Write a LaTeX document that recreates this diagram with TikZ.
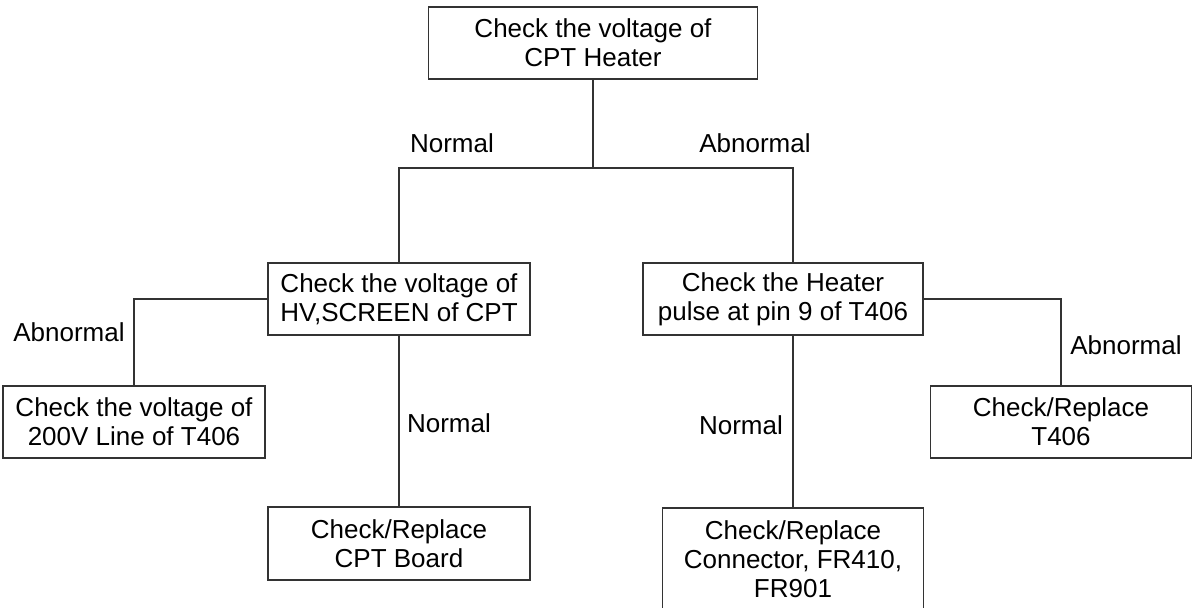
\documentclass[tikz,border=0pt]{standalone}
\usepackage{fontspec}
\setmainfont{Liberation Sans}

\begin{document}
\begin{tikzpicture}[
			x=1pt,
			y=-1pt,
			box/.style={
				draw=black!80,
				line width=1.5pt,
				align=center,
				inner sep=0pt,
				minimum height=72pt,
				font=\fontsize{26}{29}\selectfont
			},
			link/.style={
				draw=black!80,
				line width=1.5pt
			},
			tag/.style={
				inner sep=0pt,
				font=\fontsize{26}{29}\selectfont
			}
			]
			
			\useasboundingbox (0,0) rectangle (1192,608);
			
			% boxes
			\node[box,minimum width=329pt] (heater) at (593,43) {Check the voltage of\\CPT Heater};
			\node[box,minimum width=262pt] (screen) at (399,299) {Check the voltage of\\HV,SCREEN of CPT};
			\node[box,minimum width=280pt] (pulse) at (783,299) {Check the Heater\\pulse at pin 9 of T406};
			\node[box,minimum width=262pt] (line200) at (134,422) {Check the voltage of\\200V Line of T406};
			\node[box,minimum width=261pt] (trans) at (1061,422) {Check/Replace\\T406};
			\node[box,minimum width=262pt,minimum height=73pt] (board) at (399,543.5) {Check/Replace\\CPT Board};
			\node[box,minimum width=261pt,minimum height=102pt] (conn) at (793,559) {Check/Replace\\Connector, FR410,\\FR901};
			
			% connectors
			\coordinate (split) at (593,168);
			\draw[link] (heater.south) -- (split);
			\draw[link] (screen.north) |- (split) -| (conn.north |- pulse.north);
			\draw[link] (screen.west) -| (line200.north);
			\draw[link] (screen.south) -- (board.north);
			\draw[link] (pulse.east) -| (trans.north);
			\draw[link] (conn.north |- pulse.south) -- (conn.north);
			
			% labels
			\node[tag] (normtop) at (452,143) {Normal};
			\node[tag] (abntop) at (755,143) {Abnormal};
			\node[tag] (abnleft) at (69,332) {Abnormal};
			\node[tag] (normleft) at (449,423) {Normal};
			\node[tag] (normright) at (741,425) {Normal};
			\node[tag] (abnright) at (1126,345) {Abnormal};
			
		\end{tikzpicture}
\end{document}
